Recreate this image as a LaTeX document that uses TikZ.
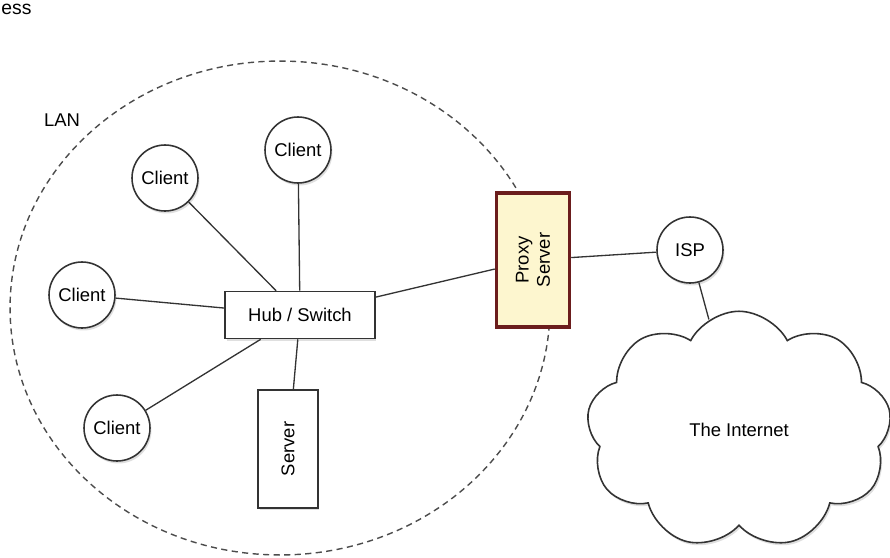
\documentclass[tikz,border=0pt]{standalone}
\usepackage{fontspec}
\setmainfont{Liberation Sans}
\usetikzlibrary{
    shapes.geometric,
    shapes.symbols,
    shadows
}
\definecolor{proxyfill}{HTML}{FDF6CF}
\definecolor{proxyline}{HTML}{6B1D1D}

\begin{document}
\begin{tikzpicture}[
    x=0.02cm, y=-0.02cm,
    every node/.style={font=\fontsize{10.5pt}{12pt}\selectfont},
    soft_shadow/.style={drop shadow={opacity=0.25, shadow xshift=0.03cm, shadow yshift=-0.05cm}},
    client_node/.style={circle, draw=black!80, line width=0.9pt, fill=white, minimum size=1.32cm, inner sep=0pt, soft_shadow},
    box_node/.style={rectangle, draw=black!80, line width=0.9pt, fill=white, inner sep=2pt, soft_shadow},
    proxy_box/.style={rectangle, draw=proxyline, line width=2pt, fill=proxyfill, align=center, soft_shadow},
    lan_border/.style={ellipse, draw=black!70, line width=0.8pt, dash pattern=on 3.5pt off 2.5pt},
    link/.style={draw=black!80, line width=0.75pt}
]
\useasboundingbox (0,0) rectangle (890,558);

% caption text at the top edge
\node[anchor=base west, inner sep=0pt, font=\fontsize{11pt}{13pt}\selectfont] (caption) at (1,14) {ess};

% LAN area
\node[lan_border, minimum width=10.8cm, minimum height=9.88cm] (lan) at (280,308) {};
\node (lan_label) at (62,120) {LAN};

% nodes
\node[client_node] (c1) at (298,150) {Client};
\node[client_node] (c2) at (165,178) {Client};
\node[client_node] (c3) at (82,295) {Client};
\node[client_node] (c4) at (117,428) {Client};
\node[box_node, minimum width=3cm, minimum height=0.94cm] (hub) at (300,315) {Hub / Switch};
\node[box_node, rotate=90, minimum width=2.36cm, minimum height=1.2cm] (server) at (288,449) {Server};
\node[proxy_box, rotate=90, minimum width=2.68cm, minimum height=1.46cm] (proxy) at (533,260) {Proxy\\Server};
\node[client_node] (isp) at (690,250) {ISP};
\node[cloud, cloud puffs=9, cloud puff arc=125, aspect=1.3, draw=black!80, line width=0.9pt, fill=white,
      minimum width=6.1cm, minimum height=4.75cm, soft_shadow] (internet) at (739,430) {The Internet};

% connectors
\foreach \c in {c1,c2,c3,c4} {
    \draw[link] (\c) -- (hub);
}
\draw[link] (hub) -- (server);
\draw[link] (hub) -- (proxy);
\draw[link] (proxy) -- (isp);
\draw[link] (isp) -- (internet);

\end{tikzpicture}
\end{document}
